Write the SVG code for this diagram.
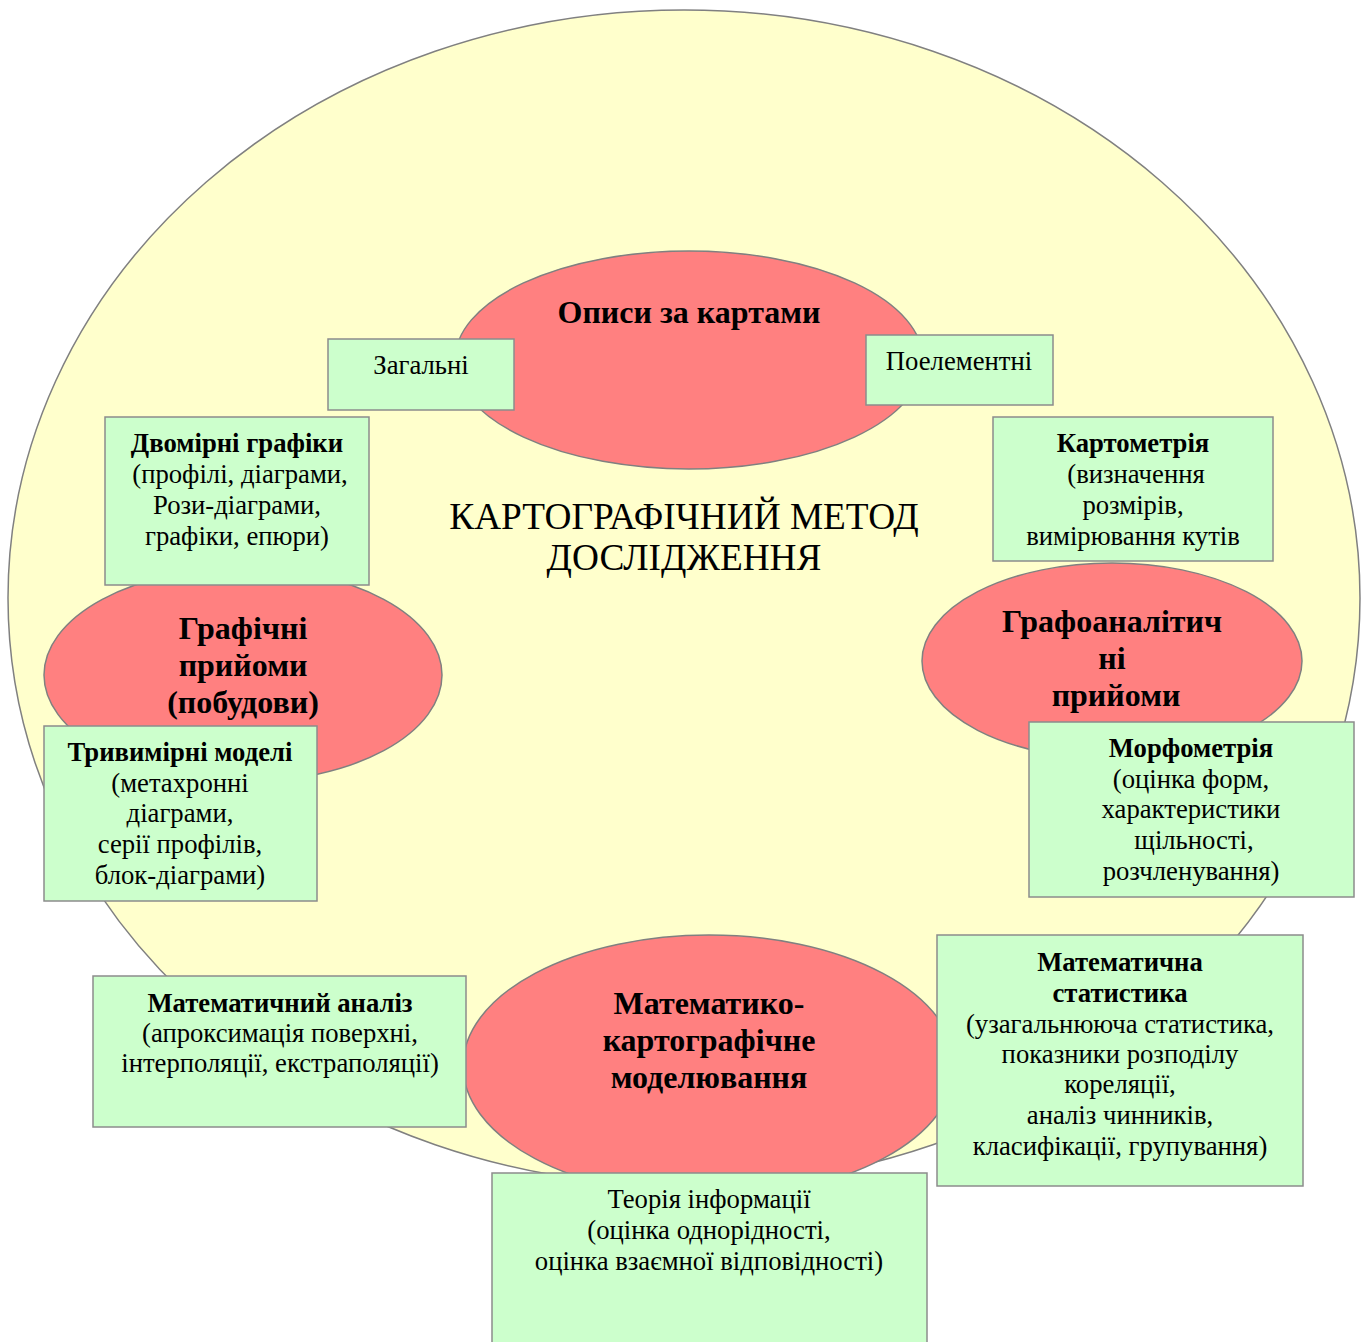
<svg xmlns="http://www.w3.org/2000/svg" width="1369" height="1342" viewBox="0 0 1369 1342">
<style>
.bg{fill:#FFFFCC;stroke:#808080;stroke-width:1.5}
.el{fill:#FF8080;stroke:#808080;stroke-width:1.5}
.bx{fill:#CCFFCC;stroke:#8C8C8C;stroke-width:1.5}
text{font-family:"Liberation Serif","Times New Roman",serif;fill:#000;text-anchor:middle}
.t{font-size:26.7px}
.tb{font-size:26.7px;font-weight:bold}
.et{font-size:32px;font-weight:bold}
.title{font-size:37.3px}
</style>
<rect width="1369" height="1342" fill="#FFFFFF"/>
<g id="background">
<ellipse class="bg" cx="684" cy="598" rx="676" ry="588"/>
<text class="title" x="684" y="529">КАРТОГРАФІЧНИЙ МЕТОД</text>
<text class="title" x="684" y="570">ДОСЛІДЖЕННЯ</text>
</g>
<g id="connectors"></g>
<g id="node-opysy">
<ellipse class="el" cx="689" cy="360" rx="234" ry="109"/>
<text class="et" x="689" y="323">Описи за картами</text>
</g>
<g id="node-hrafichni">
<ellipse class="el" cx="243" cy="675" rx="199" ry="107"/>
<text class="et" x="243" y="639">Графічні</text>
<text class="et" x="243" y="676">прийоми</text>
<text class="et" x="243" y="713">(побудови)</text>
</g>
<g id="node-hrafoanalitychni">
<ellipse class="el" cx="1112" cy="661" rx="190" ry="98"/>
<text class="et" x="1112" y="632">Графоаналітич</text>
<text class="et" x="1112" y="669">ні</text>
<text class="et" x="1116" y="706">прийоми</text>
</g>
<g id="node-matematyko">
<ellipse class="el" cx="709" cy="1066" rx="246" ry="131"/>
<text class="et" x="709" y="1014">Математико-</text>
<text class="et" x="709" y="1051">картографічне</text>
<text class="et" x="709" y="1088">моделювання</text>
</g>
<g id="node-zahalni">
<rect class="bx" x="328" y="339" width="186" height="71"/>
<text class="t" x="421" y="374">Загальні</text>
</g>
<g id="node-poelementni">
<rect class="bx" x="866" y="335" width="187" height="70"/>
<text class="t" x="959" y="370">Поелементні</text>
</g>
<g id="node-dvomirni">
<rect class="bx" x="105" y="417" width="264" height="168"/>
<text class="tb" x="237" y="452">Двомірні графіки</text>
<text class="t" x="240" y="483">(профілі, діаграми,</text>
<text class="t" x="237" y="514">Рози-діаграми,</text>
<text class="t" x="237" y="545">графіки, епюри)</text>
</g>
<g id="node-tryvymirni">
<rect class="bx" x="44" y="726" width="273" height="175"/>
<text class="tb" x="180" y="761">Тривимірні моделі</text>
<text class="t" x="180" y="792">(метахронні</text>
<text class="t" x="180" y="822">діаграми,</text>
<text class="t" x="180" y="853">серії профілів,</text>
<text class="t" x="180" y="884">блок-діаграми)</text>
</g>
<g id="node-kartometriia">
<rect class="bx" x="993" y="417" width="280" height="144"/>
<text class="tb" x="1133" y="452">Картометрія</text>
<text class="t" x="1136" y="483">(визначення</text>
<text class="t" x="1133" y="514">розмірів,</text>
<text class="t" x="1133" y="545">вимірювання кутів</text>
</g>
<g id="node-morfometriia">
<rect class="bx" x="1029" y="722" width="325" height="175"/>
<text class="tb" x="1191" y="757">Морфометрія</text>
<text class="t" x="1191" y="788">(оцінка форм,</text>
<text class="t" x="1191" y="818">характеристики</text>
<text class="t" x="1194" y="849">щільності,</text>
<text class="t" x="1191" y="880">розчленування)</text>
</g>
<g id="node-matanaliz">
<rect class="bx" x="93" y="976" width="373" height="151"/>
<text class="tb" x="280" y="1012">Математичний аналіз</text>
<text class="t" x="280" y="1042">(апроксимація поверхні,</text>
<text class="t" x="280" y="1072">інтерполяції, екстраполяції)</text>
</g>
<g id="node-matstat">
<rect class="bx" x="937" y="935" width="366" height="251"/>
<text class="tb" x="1120" y="971">Математична</text>
<text class="tb" x="1120" y="1002">статистика</text>
<text class="t" x="1120" y="1033">(узагальнююча статистика,</text>
<text class="t" x="1120" y="1063">показники розподілу</text>
<text class="t" x="1120" y="1093">кореляції,</text>
<text class="t" x="1120" y="1124">аналіз чинників,</text>
<text class="t" x="1120" y="1155">класифікації, групування)</text>
</g>
<g id="node-teoriia">
<rect class="bx" x="492" y="1173" width="435" height="175"/>
<text class="t" x="709" y="1208">Теорія інформації</text>
<text class="t" x="709" y="1239">(оцінка однорідності,</text>
<text class="t" x="709" y="1270">оцінка взаємної відповідності)</text>
</g>
</svg>
